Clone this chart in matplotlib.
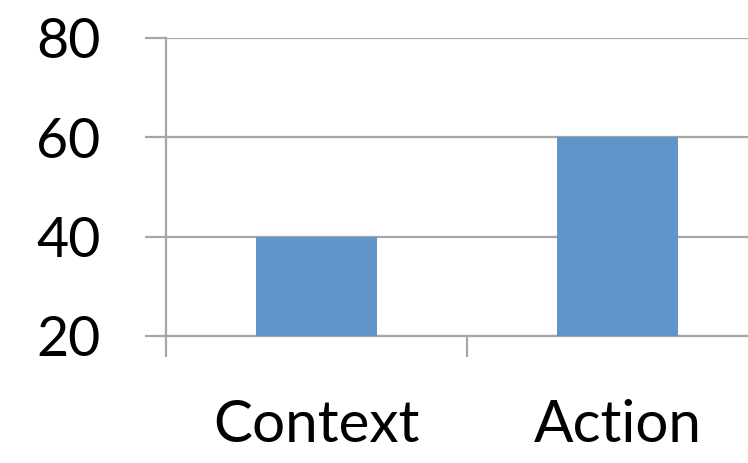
import matplotlib
matplotlib.use("Agg")
import matplotlib.pyplot as plt

categories = ["Context", "Action"]
values = [40, 60]
yticks = [20, 40, 60, 80]

plt.rcParams['font.family'] = ['Lato', 'DejaVu Sans']

fig = plt.figure(figsize=(7.48, 4.63), dpi=100)
# axis runs off the right edge like in the original
ax = fig.add_axes([166 / 748, 127 / 463, 602 / 748, 298 / 463])

x = list(range(len(categories)))
ax.bar(x, values, width=0.4, color="#5f95c9", zorder=3)

ax.set_xlim(-0.5, 1.5)
ax.set_ylim(20, 80)
ax.set_yticks(yticks)
ax.set_yticklabels([str(v) for v in yticks])

# category labels centered between boundary ticks
ax.set_xticks([-0.5, 0.5, 1.5])
ax.set_xticklabels([])
ax.set_xticks(x, minor=True)
ax.set_xticklabels(categories, minor=True)

grid_col = "#a6a6a6"
ax.grid(axis="y", color=grid_col, linewidth=1.6, zorder=0)
for s in ["top", "right"]:
    ax.spines[s].set_visible(False)
for s in ["left", "bottom"]:
    ax.spines[s].set_color(grid_col)
    ax.spines[s].set_linewidth(1.6)

ax.tick_params(axis="y", direction="out", length=15, width=1.6, color=grid_col,
               pad=32, labelsize=40)
ax.tick_params(axis="x", which="major", direction="out", length=15, width=1.6,
               color=grid_col)
ax.tick_params(axis="x", which="minor", length=0, pad=45, labelsize=42)

fig.savefig("out.png", dpi=100)
